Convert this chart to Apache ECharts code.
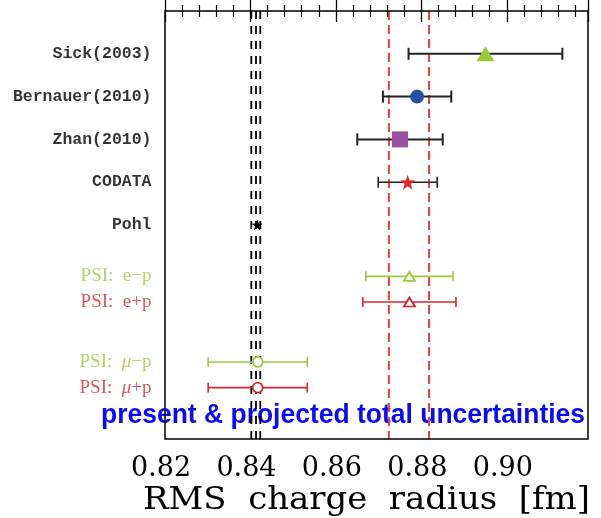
<!DOCTYPE html>
<html>
<head>
<meta charset="utf-8">
<script src="https://cdn.jsdelivr.net/npm/echarts@6/dist/echarts.min.js"></script>
<style>html,body{margin:0;padding:0;background:#fff}#c{width:601px;height:518px}</style>
</head>
<body>
<div id="c"></div>
<script>
// ---- data ----
const categories = ['Sick(2003)', 'Bernauer(2010)', 'Zhan(2010)', 'CODATA', 'Pohl',
                    'PSI:  e−p', 'PSI:  e+p', 'PSI:  μ−p', 'PSI:  μ+p'];
const rowPos = [1, 2, 3, 4, 5, 6.2, 6.8, 8.2, 8.8];
const centers = [0.895, 0.879, 0.875, 0.8768, 0.8416, 0.8772, 0.8772, 0.8417, 0.8417];
const errors = [0.018, 0.008, 0.010, 0.0069, 0, 0.0102, 0.0109, 0.0116, 0.0116];
const blackBand = [0.8402, 0.8413, 0.8423];
const redBand = [0.8724, 0.8818];
const xMin = 0.82, xMax = 0.919, xStep = 0.02;
const yMin = 0, yMax = 10;
const xTitle = 'RMS  charge  radius  [fm]';
const note = 'present & projected total uncertainties';

// ---- styles ----
const GREEN = '#9dc93b', RED = '#d42a2a';
const barColors = ['#222', '#222', '#222', '#222', '#222', GREEN, RED, GREEN, RED];
const barWidths = [2, 2, 2, 1.6, 1, 1.6, 1.6, 1.6, 1.6];
const capHalf = [6, 6, 6, 5.5, 0, 5, 5, 5, 5];
const STAR = 'path://M100,0 L123.5,67.6 L195.1,69.1 L138,112.4 L158.8,180.9 L100,140 L41.2,180.9 L62,112.4 L4.9,69.1 L76.5,67.6 Z';
const markerStyles = [
  {symbol: 'triangle', size: [18, 15], color: '#9dc93b', border: null},
  {symbol: 'circle', size: 14, color: '#2451a4', border: null},
  {symbol: 'rect', size: 16, color: '#9b4fa0', border: null},
  {symbol: STAR, size: 15, color: '#e02626', border: null},
  {symbol: STAR, size: 11, color: '#000', border: null},
  {symbol: 'triangle', size: [11, 9], color: '#fff', border: GREEN},
  {symbol: 'triangle', size: [11, 9], color: '#fff', border: RED},
  {symbol: 'circle', size: 10, color: '#fff', border: GREEN},
  {symbol: 'circle', size: 10, color: '#fff', border: RED}
];
const labelColors = ['#000', '#000', '#000', '#000', '#000', GREEN, RED, GREEN, RED];

function measure(text, font) {
  const ctx = document.createElement('canvas').getContext('2d');
  ctx.font = font;
  return ctx.measureText(text).width;
}

const chart = echarts.init(document.getElementById('c'), null, {renderer: 'canvas'});

const series = [];
// vertical dashed bands
blackBand.forEach(v => series.push({
  type: 'line', data: [[v, yMin], [v, yMax]], symbol: 'none', silent: true, z: 3,
  lineStyle: {color: '#000', width: 1.8, type: [8, 7]}
}));
redBand.forEach(v => series.push({
  type: 'line', data: [[v, yMin], [v, yMax]], symbol: 'none', silent: true, z: 3,
  lineStyle: {color: '#e8413c', width: 2, type: [9, 5]}
}));
// error bars
series.push({
  type: 'custom', z: 4,
  data: centers.map((c, i) => [c, rowPos[i], errors[i]]),
  encode: {x: 0, y: 1},
  renderItem: function (params, api) {
    const i = params.dataIndex;
    const c = api.value(0), y = api.value(1), e = api.value(2);
    if (!e) return null;
    const p1 = api.coord([c - e, y]), p2 = api.coord([c + e, y]);
    const st = {stroke: barColors[i], lineWidth: barWidths[i]};
    const h = capHalf[i];
    return {type: 'group', children: [
      {type: 'line', shape: {x1: p1[0], y1: p1[1], x2: p2[0], y2: p2[1]}, style: st},
      {type: 'line', shape: {x1: p1[0], y1: p1[1] - h, x2: p1[0], y2: p1[1] + h}, style: st},
      {type: 'line', shape: {x1: p2[0], y1: p2[1] - h, x2: p2[0], y2: p2[1] + h}, style: st}
    ]};
  }
});
// markers
centers.forEach((c, i) => {
  const m = markerStyles[i];
  series.push({
    type: 'scatter', z: 6, symbol: m.symbol, symbolSize: m.size,
    data: [[c, rowPos[i]]],
    itemStyle: {color: m.color, opacity: 1, borderColor: m.border || m.color, borderWidth: m.border ? 1.8 : 0}
  });
});
// row labels
series.push({
  type: 'scatter', z: 7, symbol: 'circle', symbolSize: 1, silent: true, clip: false,
  itemStyle: {color: 'rgba(0,0,0,0)'},
  labelLayout: {hideOverlap: false},
  data: categories.map((name, i) => {
    const isPSI = i >= 5;
    const col = labelColors[i];
    let fmt;
    if (i >= 7) {
      const parts = name.split('μ');
      fmt = '{n|' + parts[0] + '}{m|μ}{n|' + parts[1] + '}';
    } else {
      fmt = '{n|' + name + '}';
    }
    return {
      value: [xMin, rowPos[i]],
      label: {
        show: true, position: 'left', distance: 13, formatter: fmt,
        rich: {
          n: {color: col, fontFamily: isPSI ? 'Liberation Serif' : 'Liberation Mono',
              fontSize: isPSI ? 19 : 16.5, fontWeight: isPSI ? 'normal' : 'bold'},
          m: {color: col, fontFamily: 'Liberation Serif', fontSize: 19, fontStyle: 'italic'}
        }
      }
    };
  })
});

const noteFont = 'bold 27px "Liberation Sans"';
const noteScale = 484 / measure(note, noteFont);
const titleFont = '32px "DejaVu Serif"';
const titleScale = 447 / measure(xTitle, titleFont);

const axisCommon = {
  type: 'value', min: xMin, max: xMax, interval: xStep,
  axisLine: {show: false},
  splitLine: {show: false},
  axisTick: {show: true, inside: true, length: 11, lineStyle: {color: '#000', width: 1.3}},
  minorTick: {show: true, splitNumber: 5, length: 6, lineStyle: {color: '#000', width: 1.2}}
};

chart.setOption({
  animation: false,
  backgroundColor: '#fff',
  grid: {left: 165, right: 13, top: 11, bottom: 79, show: true, borderColor: '#000', borderWidth: 1.5, z: 5},
  xAxis: [
    Object.assign({}, axisCommon, {
      position: 'bottom',
      axisLabel: {
        show: true, margin: 16, showMaxLabel: false, padding: [0, 8, 0, 0],
        fontFamily: 'DejaVu Serif', fontSize: 27, color: '#000',
        formatter: v => v.toFixed(2)
      }
    }),
    Object.assign({}, axisCommon, {position: 'top', axisLabel: {show: false}})
  ],
  yAxis: {
    type: 'value', min: yMin, max: yMax, inverse: true,
    axisLine: {show: false}, axisTick: {show: false}, axisLabel: {show: false}, splitLine: {show: false}
  },
  graphic: [
    {type: 'text', z: 1, x: 101, y: 416, scaleX: noteScale, originX: 0,
     style: {text: note, font: noteFont, fill: '#0a0af5', verticalAlign: 'middle'}},
    {type: 'text', z: 1, x: 143, y: 501, scaleX: titleScale, originX: 0,
     style: {text: xTitle, font: titleFont, fill: '#000', verticalAlign: 'middle'}}
  ],
  series: series
});
</script>
</body>
</html>
